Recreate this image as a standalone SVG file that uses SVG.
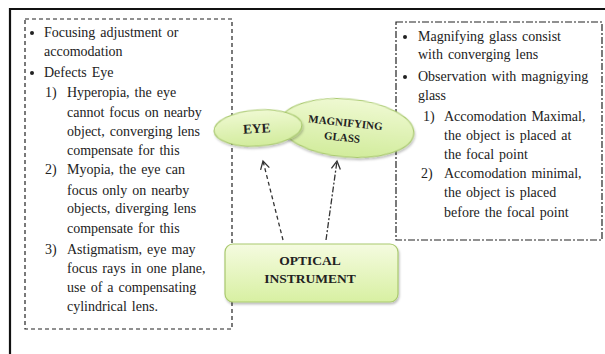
<svg xmlns="http://www.w3.org/2000/svg" width="605" height="354" viewBox="0 0 605 354">
<defs>
<linearGradient id="gEl" x1="0" y1="0" x2="0" y2="1">
<stop offset="0" stop-color="#eff9d2"/>
<stop offset="1" stop-color="#d2ec9c"/>
</linearGradient>
<linearGradient id="gBox" x1="0" y1="0" x2="0" y2="1">
<stop offset="0" stop-color="#f5fbe0"/>
<stop offset="1" stop-color="#d8f0a2"/>
</linearGradient>
<marker id="arr" markerWidth="12" markerHeight="12" refX="9" refY="6" orient="auto" markerUnits="userSpaceOnUse">
<path d="M1,1.5 L9,6 L1,10.5" fill="none" stroke="#333" stroke-width="1.3"/>
</marker>
<filter id="sh" x="-10%" y="-10%" width="130%" height="140%">
<feDropShadow dx="1" dy="2" stdDeviation="1.2" flood-color="#000" flood-opacity="0.25"/>
</filter>
</defs>
<style>
.t{font-family:"Liberation Serif","Times New Roman",serif;font-size:14px;fill:#222;word-spacing:1.5px}
.bul{fill:#222}
.b{font-family:"Liberation Serif","Times New Roman",serif;font-weight:bold;fill:#222;text-anchor:middle}
.node{fill:url(#gEl);stroke:#a9c96e;stroke-width:1.2;filter:url(#sh)}
.conn{fill:none;stroke:#333;stroke-width:1.3;marker-end:url(#arr)}
</style>
<rect width="605" height="354" fill="#fff"/>
<path d="M10,354 L10,9 L605,9" fill="none" stroke="#111" stroke-width="2.2"/>

<g id="left-notes">
<rect x="25" y="19" width="207" height="310" fill="none" stroke="#222" stroke-width="1.2" stroke-dasharray="4,3"/>
<circle class="bul" cx="32" cy="33" r="2"/><text class="t" x="44" y="37">Focusing adjustment or</text>
<text class="t" x="44" y="56">accomodation</text>
<circle class="bul" cx="32" cy="73" r="2"/><text class="t" x="44" y="77">Defects  Eye</text>
<text class="t" x="45" y="97">1)</text><text class="t" x="67" y="97">Hyperopia,  the eye</text>
<text class="t" x="67" y="117">cannot focus on nearby</text>
<text class="t" x="67" y="136">object, converging lens</text>
<text class="t" x="67" y="155">compensate for this</text>
<text class="t" x="45" y="174">2)</text><text class="t" x="67" y="174">Myopia, the eye can</text>
<text class="t" x="67" y="195">focus only on nearby</text>
<text class="t" x="67" y="213">objects, diverging lens</text>
<text class="t" x="67" y="233">compensate for this</text>
<text class="t" x="45" y="254">3)</text><text class="t" x="67" y="254">Astigmatism, eye may</text>
<text class="t" x="67" y="273">focus rays in one plane,</text>
<text class="t" x="67" y="292">use of a compensating</text>
<text class="t" x="67" y="311">cylindrical lens.</text>
</g>

<g id="right-notes">
<rect x="396" y="22" width="206" height="218" fill="none" stroke="#222" stroke-width="1.2" stroke-dasharray="7,2,2,2"/>
<circle class="bul" cx="405" cy="37" r="2"/><text class="t" x="418" y="41">Magnifying glass consist</text>
<text class="t" x="418" y="59">with converging lens</text>
<circle class="bul" cx="405" cy="77" r="2"/><text class="t" x="418" y="81">Observation with magnigying</text>
<text class="t" x="418" y="100">glass</text>
<text class="t" x="423" y="121">1)</text><text class="t" x="444" y="121">Accomodation Maximal,</text>
<text class="t" x="444" y="140">the object is placed at</text>
<text class="t" x="444" y="159">the focal point</text>
<text class="t" x="421" y="178">2)</text><text class="t" x="444" y="178">Accomodation minimal,</text>
<text class="t" x="444" y="197">the object is placed</text>
<text class="t" x="444" y="217">before the focal point</text>
</g>

<g id="magnifying-glass">
<ellipse class="node" cx="347" cy="128" rx="67" ry="29" transform="rotate(5 347 128)"/>
<g transform="rotate(6 343 128)">
<text class="b" x="345" y="126" font-size="11">MAGNIFYING</text>
<text class="b" x="343" y="141" font-size="11">GLASS</text>
</g>
</g>

<g id="eye">
<ellipse class="node" cx="258" cy="128" rx="44" ry="18" transform="rotate(-4 258 128)"/>
<text class="b" x="257" y="133" font-size="13.5" transform="rotate(-3 257 133)">EYE</text>
</g>

<g id="optical-instrument">
<rect class="node" x="225" y="244" width="173" height="58" rx="8" style="fill:url(#gBox)"/>
<text class="b" x="310" y="265" font-size="13.5">OPTICAL</text>
<text class="b" x="310" y="283" font-size="13.5">INSTRUMENT</text>
</g>

<g id="connectors">
<path class="conn" d="M283,240 L263,161" stroke-dasharray="4,3"/>
<path class="conn" d="M326,240 L337,161" stroke-dasharray="6,2,2,2"/>
</g>
</svg>
